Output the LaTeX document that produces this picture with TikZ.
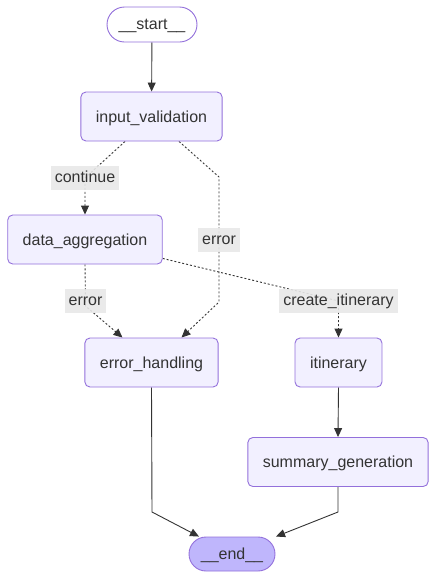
\documentclass[tikz,border=0pt]{standalone}
\usepackage{fontspec}
\setmainfont{Liberation Sans}
\usetikzlibrary{arrows.meta}
\definecolor{nodefill}{HTML}{F2F0FF}
\definecolor{nodestroke}{HTML}{9370DB}
\definecolor{endfill}{HTML}{BFB6FC}
\definecolor{txt}{HTML}{333333}
\definecolor{lblfill}{HTML}{E8E8E8}
\definecolor{edge}{HTML}{333333}
\pgfdeclarelayer{bg}
\pgfsetlayers{bg,main}
\tikzset{
  nd/.style={draw=nodestroke, fill=nodefill, line width=0.9pt, rounded corners=5pt,
    inner xsep=15pt, inner ysep=0pt, minimum height=49pt, text=txt, font=\fontsize{16}{19}\selectfont,
    text height=12pt, text depth=1pt},
  term/.style={draw=nodestroke, line width=0.9pt, text=txt, font=\fontsize{16}{19}\selectfont,
    inner sep=0pt, text height=12pt, text depth=1.5pt},
  lbl/.style={fill=lblfill, fill opacity=0.9, text opacity=1, inner xsep=4pt, inner ysep=0pt,
    minimum height=24pt, text=txt, font=\fontsize{16}{19}\selectfont,
    text height=11pt, text depth=1.5pt},
  edg/.style={draw=edge, line width=0.9pt, -{Triangle[length=9pt,width=8pt]}},
  dedg/.style={edg, dash pattern=on 2pt off 2pt},
}
\begin{document}
\begin{tikzpicture}[x=1pt,y=-1pt]
\useasboundingbox (0,0) rectangle (437,579);
% nodes
\node[term, fill=white, minimum width=90pt, minimum height=35pt, rounded corners=17.5pt] (st) at (152,24.5) {\_\_start\_\_};
\node[nd] (iv) at (151.5,116.5) {input\_validation};
\node[nd] (da) at (85,239.5) {data\_aggregation};
\node[nd] (eh) at (151.5,362.5) {error\_handling};
\node[nd] (it) at (338.5,362.5) {itinerary};
\node[nd] (sg) at (338,462) {summary\_generation};
\node[term, fill=endfill, minimum width=86pt, minimum height=34pt, rounded corners=17pt] (en) at (232,554) {\_\_end\_\_};
% labels
\node[lbl] (cont) at (85,178) {continue};
\node[lbl] (err1) at (219,240) {error};
\node[lbl] (err2) at (85.5,301) {error};
\node[lbl] (ci) at (338.5,301) {create\_itinerary};
% edges
\begin{pgfonlayer}{bg}
\draw[edg] (st) -- (iv);
\draw[dedg] ([xshift=-26.5pt]iv.south) -- (cont.center) -- (da.north);
\draw[dedg] ([xshift=27.5pt]iv.south) -- (219,177) -- (err1.center) -- (219,302) -- ([xshift=30pt]eh.north);
\draw[dedg] (da.south) -- (err2.center) -- (85.5,306) -- ([xshift=-29pt]eh.north);
\draw[dedg] ([yshift=6pt]da.south east) -- (ci.center) -- (it.north);
\draw[edg] (eh.south) -- (152,512) -- ([xshift=-33pt]en.north);
\draw[edg] (it.south) -- (sg.north);
\draw[edg] (sg.south) -- (338,512) -- ([xshift=44pt]en.north);
\end{pgfonlayer}
\end{tikzpicture}
\end{document}
